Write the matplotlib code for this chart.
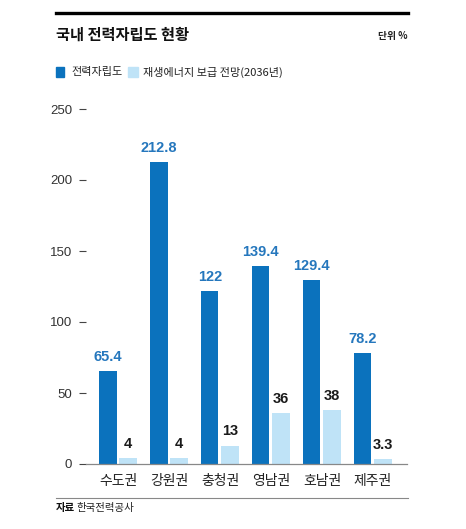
import matplotlib
matplotlib.use("Agg")
import matplotlib.pyplot as plt
from matplotlib.patches import Rectangle
from matplotlib.lines import Line2D
import numpy as np

plt.rcParams['font.family'] = ['Noto Sans CJK KR', 'DejaVu Sans']

regions = ['수도권', '강원권', '충청권', '영남권', '호남권', '제주권']
self_sufficiency = [65.4, 212.8, 122, 139.4, 129.4, 78.2]
renewable_2036 = [4, 4, 13, 36, 38, 3.3]
self_labels = ['65.4', '212.8', '122', '139.4', '129.4', '78.2']
renew_labels = ['4', '4', '13', '36', '38', '3.3']
yticks = [0, 50, 100, 150, 200, 250]

DARK = '#0b72bd'
LIGHT = '#bfe3f7'
LABEL_BLUE = '#2577bd'
NUM_FONT = ['Liberation Sans', 'DejaVu Sans']

W, H = 466, 529
fig = plt.figure(figsize=(W / 100, H / 100), dpi=100)

def px(x, y):
    return x / W, 1 - y / H

# axes placement in pixels
left, right, top, bottom = 86, 407, 109, 464
ax = fig.add_axes([left / W, 1 - bottom / H, (right - left) / W, (bottom - top) / H])

x = np.arange(len(regions))
ax.bar(x - 0.2, self_sufficiency, width=0.34, color=DARK, zorder=2)
ax.bar(x + 0.2, renewable_2036, width=0.35, color=LIGHT, zorder=2)

for xi, v, s in zip(x, self_sufficiency, self_labels):
    ax.text(xi - 0.2, v + 5, s, ha='center', va='bottom', fontsize=10.5,
            fontweight='bold', color=LABEL_BLUE, family=NUM_FONT)
for xi, v, s in zip(x, renewable_2036, renew_labels):
    ax.text(xi + 0.2, v + 5, s, ha='center', va='bottom', fontsize=10.5,
            fontweight='bold', color='#1a1a1a', family=NUM_FONT)

ax.set_xlim(-0.63, 5.67)
ax.set_ylim(0, 250)
ax.set_yticks(yticks)
ax.set_yticklabels([str(t) for t in yticks], family=NUM_FONT)
ax.set_xticks(x)
ax.set_xticklabels(regions, fontsize=10, color='#222222')
ax.tick_params(axis='x', length=0, pad=7)
ax.tick_params(axis='y', length=5, width=0.8, color='#444444', pad=5,
               labelsize=9.5, labelcolor='#333333')
for side in ['left', 'right', 'top']:
    ax.spines[side].set_visible(False)
ax.spines['bottom'].set_color('#888888')
ax.spines['bottom'].set_linewidth(0.9)
ax.set_facecolor('none')

# header
fig.add_artist(Line2D([56 / W, 408 / W], [1 - 13 / H] * 2, color='black', lw=2.4))
fig.text(*px(56, 35), '국내 전력자립도 현황', fontsize=11, fontweight='bold',
         ha='left', va='center', color='#111111')
fig.text(*px(408, 36), '단위 %', fontsize=7, fontweight='bold',
         ha='right', va='center', color='#222222')

# legend
fig.add_artist(Rectangle(px(56, 77), 8 / W, 10 / H, color=DARK))
fig.text(*px(71, 72), '전력자립도', fontsize=8, ha='left', va='center', color='#222222')
fig.add_artist(Rectangle(px(128, 77), 10 / W, 10 / H, color=LIGHT))
fig.text(*px(143, 72), '재생에너지 보급 전망(2036년)', fontsize=8, ha='left',
         va='center', color='#222222')

# footer
fig.add_artist(Line2D([56 / W, 408 / W], [1 - 498 / H] * 2, color='#888888', lw=0.8))
fig.text(*px(56, 508), '자료', fontsize=7.5, fontweight='bold', ha='left',
         va='center', color='#111111')
fig.text(*px(76, 508), '한국전력공사', fontsize=7.5, ha='left', va='center',
         color='#222222')

fig.savefig('out.png', dpi=100)
